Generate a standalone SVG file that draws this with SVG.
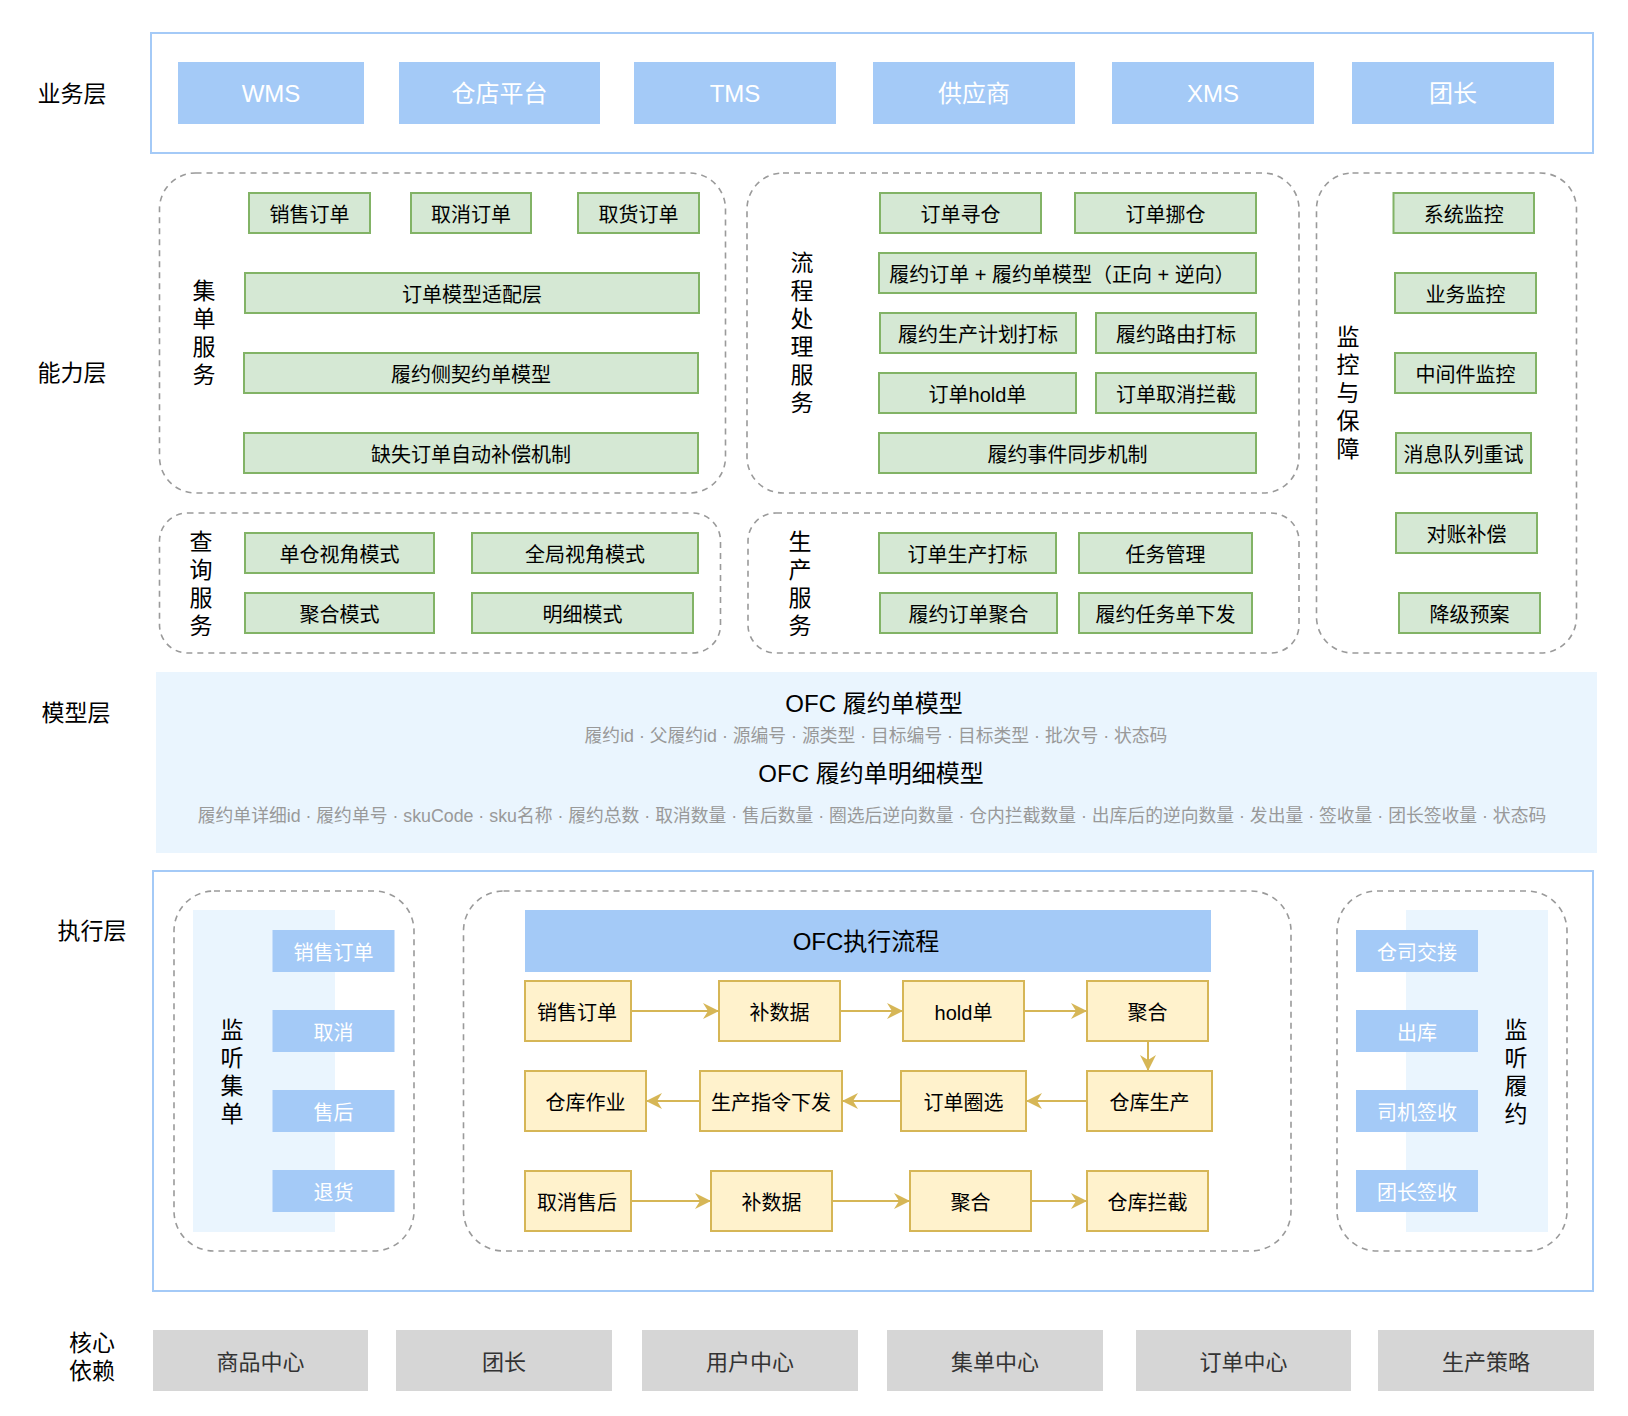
<svg xmlns="http://www.w3.org/2000/svg" width="1628" height="1416" viewBox="0 0 1628 1416">
<defs>
<style>
text{font-family:"Liberation Sans","Noto Sans CJK SC",sans-serif;dominant-baseline:central;text-anchor:middle}
.lay{font-size:23px;fill:#000}
.vl{font-size:23px;fill:#000}
.frame{fill:#fff;stroke:#A4CAF7;stroke-width:2}
.biz rect{fill:#A4CAF7}
.biz text{font-size:24px;fill:#fff}
.dash{fill:none;stroke:#9A9A9A;stroke-width:1.6;stroke-dasharray:6 5}
.g rect{fill:#D5E8D4;stroke:#82B366;stroke-width:2}
.g text{font-size:20px;fill:#000;transform:translateY(2px)}
.model{fill:#EAF5FE}
.mt{font-size:24px;fill:#000}
.ms{font-size:17.8px;fill:#999;transform:translateY(1px)}
.panel{fill:#EAF5FE}
.lb rect{fill:#A4CAF7}
.lb text{font-size:20px;fill:#fff;transform:translateY(2px)}
.y rect{fill:#FFF2CC;stroke:#D6B656;stroke-width:2}
.y text{font-size:20px;fill:#000;transform:translateY(2px)}
.hdr rect{fill:#A4CAF7}
.hdr text{font-size:24px;fill:#000}
.dep rect{fill:#D6D6D6}
.dep text{font-size:22px;fill:#333;transform:translateY(1px)}
.arr{stroke:#D6B656;stroke-width:2;fill:none;marker-end:url(#ah)}
</style>
<marker id="ah" viewBox="0 0 16 16" refX="15" refY="8" markerWidth="16" markerHeight="16" markerUnits="userSpaceOnUse" orient="auto">
<path d="M0,0 L16,8 L0,16 L5,8 Z" fill="#D6B656"/>
</marker>
</defs>

<!-- layer labels -->
<g id="layer-labels">
<text class="lay" x="72" y="94">业务层</text>
<text class="lay" x="72" y="373">能力层</text>
<text class="lay" x="76" y="713">模型层</text>
<text class="lay" x="92" y="931">执行层</text>
<text class="lay" x="92" y="1343">核心</text>
<text class="lay" x="92" y="1371">依赖</text>
</g>

<!-- business layer -->
<g id="business-layer">
<rect class="frame" x="151" y="33" width="1442" height="120"/>
<g id="biz-wms" class="biz"><rect x="178" y="62" width="186" height="62"/><text x="271" y="93">WMS</text></g>
<g id="biz-store" class="biz"><rect x="399" y="62" width="201" height="62"/><text x="499.5" y="93">仓店平台</text></g>
<g id="biz-tms" class="biz"><rect x="634" y="62" width="202" height="62"/><text x="735" y="93">TMS</text></g>
<g id="biz-supplier" class="biz"><rect x="873" y="62" width="202" height="62"/><text x="974" y="93">供应商</text></g>
<g id="biz-xms" class="biz"><rect x="1112" y="62" width="202" height="62"/><text x="1213" y="93">XMS</text></g>
<g id="biz-leader" class="biz"><rect x="1352" y="62" width="202" height="62"/><text x="1453" y="93">团长</text></g>
</g>

<!-- ability layer -->
<g id="collect-service">
<rect class="dash" x="159.5" y="173" width="566" height="320" rx="36"/>
<text class="vl"><tspan x="204" y="291">集</tspan><tspan x="204" y="319">单</tspan><tspan x="204" y="347">服</tspan><tspan x="204" y="375">务</tspan></text>
<g id="c1-sale" class="g"><rect x="249" y="193" width="121" height="40"/><text x="309.5" y="213">销售订单</text></g>
<g id="c1-cancel" class="g"><rect x="411" y="193" width="120" height="40"/><text x="471" y="213">取消订单</text></g>
<g id="c1-pickup" class="g"><rect x="578" y="193" width="121" height="40"/><text x="638.5" y="213">取货订单</text></g>
<g id="c1-adapter" class="g"><rect x="245" y="273" width="454" height="40"/><text x="472" y="293">订单模型适配层</text></g>
<g id="c1-contract" class="g"><rect x="244" y="353" width="454" height="40"/><text x="471" y="373">履约侧契约单模型</text></g>
<g id="c1-compensate" class="g"><rect x="244" y="433" width="454" height="40"/><text x="471" y="453">缺失订单自动补偿机制</text></g>
</g>

<g id="process-service">
<rect class="dash" x="747" y="173" width="552" height="320" rx="36"/>
<text class="vl"><tspan x="802" y="263">流</tspan><tspan x="802" y="291">程</tspan><tspan x="802" y="319">处</tspan><tspan x="802" y="347">理</tspan><tspan x="802" y="375">服</tspan><tspan x="802" y="403">务</tspan></text>
<g id="c2-find" class="g"><rect x="880" y="193" width="161" height="40"/><text x="960.5" y="213">订单寻仓</text></g>
<g id="c2-move" class="g"><rect x="1075" y="193" width="181" height="40"/><text x="1165.5" y="213">订单挪仓</text></g>
<g id="c2-model" class="g"><rect x="879" y="253" width="377" height="40"/><text x="1062" y="273">履约订单 + 履约单模型（正向 + 逆向）</text></g>
<g id="c2-plan" class="g"><rect x="880" y="313" width="196" height="40"/><text x="978" y="333">履约生产计划打标</text></g>
<g id="c2-route" class="g"><rect x="1096" y="313" width="160" height="40"/><text x="1176" y="333">履约路由打标</text></g>
<g id="c2-hold" class="g"><rect x="879" y="373" width="197" height="40"/><text x="977.5" y="393">订单hold单</text></g>
<g id="c2-intercept" class="g"><rect x="1096" y="373" width="160" height="40"/><text x="1176" y="393">订单取消拦截</text></g>
<g id="c2-sync" class="g"><rect x="879" y="433" width="377" height="40"/><text x="1067.5" y="453">履约事件同步机制</text></g>
</g>

<g id="monitor-service">
<rect class="dash" x="1316.5" y="173" width="260" height="480" rx="36"/>
<text class="vl"><tspan x="1348" y="337">监</tspan><tspan x="1348" y="365">控</tspan><tspan x="1348" y="393">与</tspan><tspan x="1348" y="421">保</tspan><tspan x="1348" y="449">障</tspan></text>
<g id="c3-sys" class="g"><rect x="1393.5" y="193" width="140.5" height="40"/><text x="1463.75" y="213">系统监控</text></g>
<g id="c3-biz" class="g"><rect x="1395" y="273" width="141" height="40"/><text x="1465.5" y="293">业务监控</text></g>
<g id="c3-mw" class="g"><rect x="1395" y="353" width="141" height="40"/><text x="1465.5" y="373">中间件监控</text></g>
<g id="c3-mq" class="g"><rect x="1396" y="433" width="135" height="40"/><text x="1463.5" y="453">消息队列重试</text></g>
<g id="c3-recon" class="g"><rect x="1396" y="513" width="141" height="40"/><text x="1466.5" y="533">对账补偿</text></g>
<g id="c3-degrade" class="g"><rect x="1399" y="593" width="141" height="40"/><text x="1469.5" y="613">降级预案</text></g>
</g>

<g id="query-service">
<rect class="dash" x="159.5" y="513" width="561" height="140" rx="28"/>
<text class="vl"><tspan x="201" y="542">查</tspan><tspan x="201" y="570">询</tspan><tspan x="201" y="598">服</tspan><tspan x="201" y="626">务</tspan></text>
<g id="c4-single" class="g"><rect x="245" y="533" width="189" height="40"/><text x="339.5" y="553">单仓视角模式</text></g>
<g id="c4-global" class="g"><rect x="472" y="533" width="226" height="40"/><text x="585" y="553">全局视角模式</text></g>
<g id="c4-agg" class="g"><rect x="245" y="593" width="189" height="40"/><text x="339.5" y="613">聚合模式</text></g>
<g id="c4-detail" class="g"><rect x="472" y="593" width="221" height="40"/><text x="582.5" y="613">明细模式</text></g>
</g>

<g id="production-service">
<rect class="dash" x="748" y="513" width="551" height="140" rx="28"/>
<text class="vl"><tspan x="800" y="542">生</tspan><tspan x="800" y="570">产</tspan><tspan x="800" y="598">服</tspan><tspan x="800" y="626">务</tspan></text>
<g id="c5-mark" class="g"><rect x="879" y="533" width="177" height="40"/><text x="967.5" y="553">订单生产打标</text></g>
<g id="c5-task" class="g"><rect x="1079" y="533" width="173" height="40"/><text x="1165.5" y="553">任务管理</text></g>
<g id="c5-agg" class="g"><rect x="880" y="593" width="177" height="40"/><text x="968.5" y="613">履约订单聚合</text></g>
<g id="c5-dispatch" class="g"><rect x="1079" y="593" width="173" height="40"/><text x="1165.5" y="613">履约任务单下发</text></g>
</g>

<!-- model layer -->
<g id="model-layer">
<rect class="model" x="156" y="672" width="1441" height="181"/>
<text class="mt" x="874" y="703">OFC 履约单模型</text>
<text class="ms" x="876" y="735">履约id · 父履约id · 源编号 · 源类型 · 目标编号 · 目标类型 · 批次号 · 状态码</text>
<text class="mt" x="871" y="773">OFC 履约单明细模型</text>
<text class="ms" x="872" y="815">履约单详细id · 履约单号 · skuCode · sku名称 · 履约总数 · 取消数量 · 售后数量 · 圈选后逆向数量 · 仓内拦截数量 · 出库后的逆向数量 · 发出量 · 签收量 · 团长签收量 · 状态码</text>
</g>

<!-- execution layer -->
<g id="execution-frame">
<rect class="frame" x="153" y="871" width="1440" height="420"/>
</g>

<g id="listen-collect">
<rect class="dash" x="174" y="891" width="240" height="360" rx="40"/>
<rect class="panel" x="193" y="910" width="142" height="322"/>
<text class="vl"><tspan x="232" y="1030">监</tspan><tspan x="232" y="1058">听</tspan><tspan x="232" y="1086">集</tspan><tspan x="232" y="1114">单</tspan></text>
<g id="lc-sale" class="lb"><rect x="272.5" y="930" width="122" height="42"/><text x="333.5" y="951">销售订单</text></g>
<g id="lc-cancel" class="lb"><rect x="272.5" y="1010" width="122" height="42"/><text x="333.5" y="1031">取消</text></g>
<g id="lc-after" class="lb"><rect x="272.5" y="1090" width="122" height="42"/><text x="333.5" y="1111">售后</text></g>
<g id="lc-return" class="lb"><rect x="272.5" y="1170" width="122" height="42"/><text x="333.5" y="1191">退货</text></g>
</g>

<g id="ofc-flow">
<rect class="dash" x="463.5" y="891" width="827.5" height="360" rx="40"/>
<g id="flow-header" class="hdr"><rect x="525" y="910" width="686" height="62"/><text x="866" y="941">OFC执行流程</text></g>
<g id="f-sale" class="y"><rect x="525" y="981" width="106" height="60"/><text x="577" y="1011">销售订单</text></g>
<g id="f-fill1" class="y"><rect x="719" y="981" width="121" height="60"/><text x="779.5" y="1011">补数据</text></g>
<g id="f-hold" class="y"><rect x="903" y="981" width="121" height="60"/><text x="963.5" y="1011">hold单</text></g>
<g id="f-agg1" class="y"><rect x="1087" y="981" width="121" height="60"/><text x="1147.5" y="1011">聚合</text></g>
<g id="f-wh-op" class="y"><rect x="525" y="1071" width="121" height="60"/><text x="585.5" y="1101">仓库作业</text></g>
<g id="f-cmd" class="y"><rect x="700" y="1071" width="142" height="60"/><text x="771" y="1101">生产指令下发</text></g>
<g id="f-select" class="y"><rect x="901" y="1071" width="125" height="60"/><text x="963.5" y="1101">订单圈选</text></g>
<g id="f-wh-prod" class="y"><rect x="1087" y="1071" width="125" height="60"/><text x="1149.5" y="1101">仓库生产</text></g>
<g id="f-cancel" class="y"><rect x="525" y="1171" width="106" height="60"/><text x="577" y="1201">取消售后</text></g>
<g id="f-fill2" class="y"><rect x="711" y="1171" width="121" height="60"/><text x="771.5" y="1201">补数据</text></g>
<g id="f-agg2" class="y"><rect x="910" y="1171" width="121" height="60"/><text x="970.5" y="1201">聚合</text></g>
<g id="f-intercept" class="y"><rect x="1087" y="1171" width="121" height="60"/><text x="1147.5" y="1201">仓库拦截</text></g>
</g>

<g id="connectors">
<line class="arr" x1="632" y1="1011" x2="718" y2="1011"/>
<line class="arr" x1="841" y1="1011" x2="902" y2="1011"/>
<line class="arr" x1="1025" y1="1011" x2="1086" y2="1011"/>
<line class="arr" x1="1148" y1="1042" x2="1148" y2="1070"/>
<line class="arr" x1="1086" y1="1101" x2="1027" y2="1101"/>
<line class="arr" x1="900" y1="1101" x2="843" y2="1101"/>
<line class="arr" x1="699" y1="1101" x2="647" y2="1101"/>
<line class="arr" x1="632" y1="1201" x2="710" y2="1201"/>
<line class="arr" x1="833" y1="1201" x2="909" y2="1201"/>
<line class="arr" x1="1032" y1="1201" x2="1086" y2="1201"/>
</g>

<g id="listen-fulfil">
<rect class="dash" x="1337" y="891" width="230" height="360" rx="40"/>
<rect class="panel" x="1406" y="910" width="142" height="322"/>
<text class="vl"><tspan x="1516" y="1030">监</tspan><tspan x="1516" y="1058">听</tspan><tspan x="1516" y="1086">履</tspan><tspan x="1516" y="1114">约</tspan></text>
<g id="lf-handover" class="lb"><rect x="1356" y="930" width="122" height="42"/><text x="1417" y="951">仓司交接</text></g>
<g id="lf-out" class="lb"><rect x="1356" y="1010" width="122" height="42"/><text x="1417" y="1031">出库</text></g>
<g id="lf-driver" class="lb"><rect x="1356" y="1090" width="122" height="42"/><text x="1417" y="1111">司机签收</text></g>
<g id="lf-leader" class="lb"><rect x="1356" y="1170" width="122" height="42"/><text x="1417" y="1191">团长签收</text></g>
</g>

<!-- core dependencies -->
<g id="core-deps">
<g id="dep-goods" class="dep"><rect x="153" y="1330" width="215" height="61"/><text x="260.5" y="1361">商品中心</text></g>
<g id="dep-leader" class="dep"><rect x="396" y="1330" width="216" height="61"/><text x="504" y="1361">团长</text></g>
<g id="dep-user" class="dep"><rect x="642" y="1330" width="216" height="61"/><text x="750" y="1361">用户中心</text></g>
<g id="dep-collect" class="dep"><rect x="887" y="1330" width="216" height="61"/><text x="995" y="1361">集单中心</text></g>
<g id="dep-order" class="dep"><rect x="1136" y="1330" width="215" height="61"/><text x="1243.5" y="1361">订单中心</text></g>
<g id="dep-strategy" class="dep"><rect x="1378" y="1330" width="216" height="61"/><text x="1486" y="1361">生产策略</text></g>
</g>
</svg>
